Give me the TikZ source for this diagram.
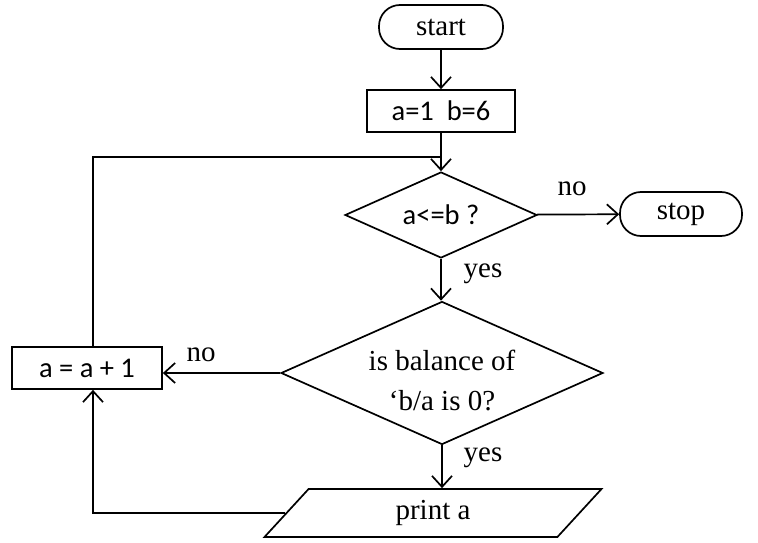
\documentclass[tikz,border=0pt]{standalone}
\usepackage{fontspec}
\setmainfont{Liberation Serif}
\newfontfamily\calibfont{Carlito}
\usetikzlibrary{shapes.geometric,arrows.meta}

\begin{document}
\begin{tikzpicture}[x=1pt,y=-1pt,line width=1.7pt,
  >={Straight Barb[length=11pt,width=20pt]},
  term/.style={draw,rounded corners=21pt,minimum width=124pt,minimum height=44pt,font=\fontsize{29}{34}\selectfont},
  proc/.style={draw,minimum height=42pt,font=\calibfont\fontsize{28.5}{34}\selectfont},
  decide/.style={draw,diamond,aspect=2.25,inner sep=0pt},
  io/.style={draw,trapezium,trapezium left angle=36,trapezium right angle=144,trapezium stretches body,minimum width=337pt,minimum height=48pt,font=\fontsize{29}{34}\selectfont},
  lbl/.style={font=\fontsize{29}{34}\selectfont}]
\useasboundingbox (0,0) rectangle (758,543);
\node[term] (start) at (441,27) {start};
\node[proc,minimum width=148pt] (init) at (441,111) {a=1\ \ b=6};
\node[decide,minimum width=192pt,minimum height=86pt,font=\calibfont\fontsize{28.5}{34}\selectfont] (cond) at (441,215) {a<=b ?};
\node[term,minimum width=122pt] (stop) at (681,214) {stop};
\node[decide,minimum width=322pt,minimum height=143pt,align=center,font=\fontsize{29}{40}\selectfont] (rest) at (442,373) {\rule{0pt}{36pt}is balance of\\`b/a is 0?};
\node[proc,minimum width=150pt] (inc) at (87,368) {a = a + 1};
\node[io] (out) at (433,513) {print a\hspace{16pt}};
% labels
\node[lbl] (no1) at (572,189) {no};
\node[lbl] (no2) at (201,355) {no};
\node[lbl] (yes1) at (483,274) {yes};
\node[lbl] (yes2) at (483,458) {yes};
% connectors
\draw[->] (start) -- (init);
\draw[->] (init) -- (cond);
\coordinate (join) at (441,157);
\draw ([xshift=6pt]inc.north) |- (join);
\draw[->] (cond) -- (stop);
\draw[->] (cond) -- (cond.south |- rest.north);
\draw[->] (rest.west) -- (rest.west -| inc.east);
\draw[->] (rest.south) -- (rest.south |- out.north);
\draw[->] (out.west) -| ([xshift=6pt]inc.south);
\end{tikzpicture}
\end{document}
